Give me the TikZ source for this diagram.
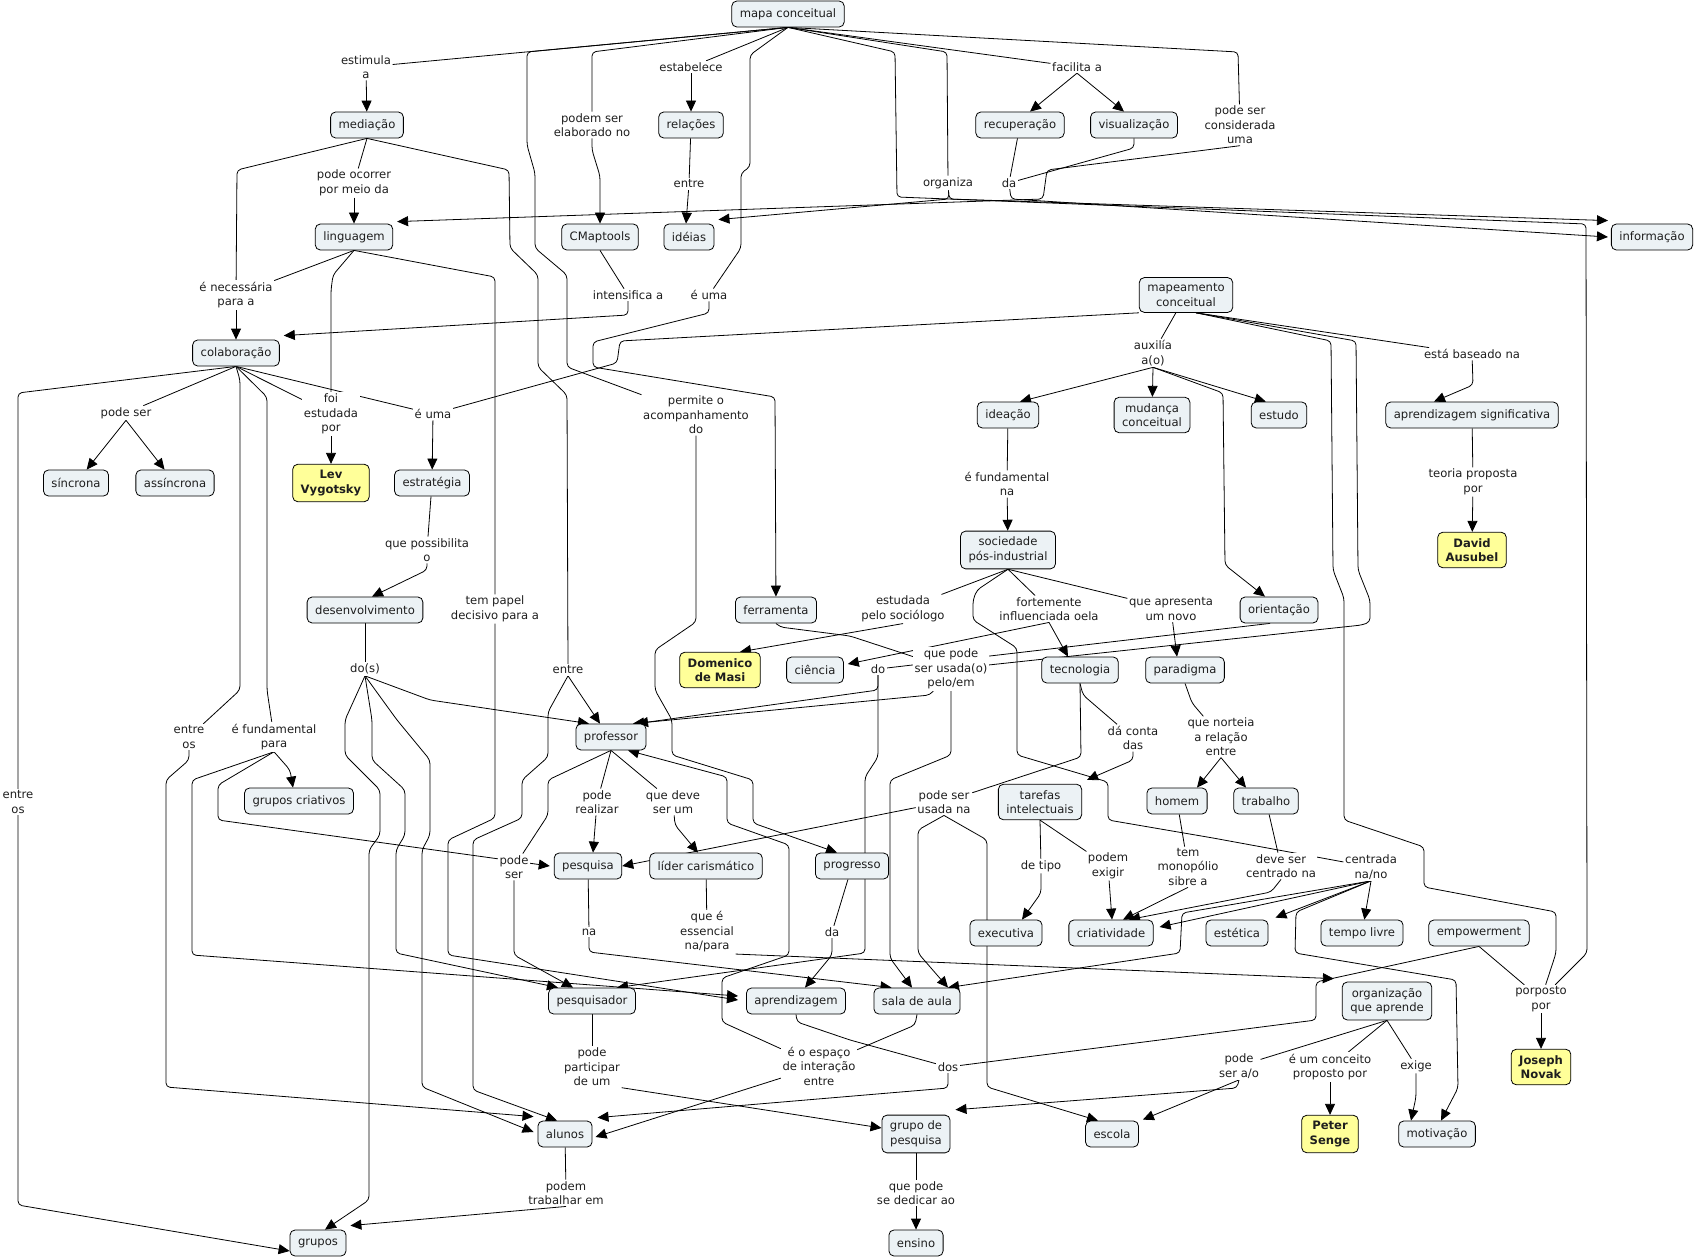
\documentclass[tikz,border=0pt]{standalone}
\usepackage{fontspec}
\setmainfont{DejaVu Sans}
\usetikzlibrary{arrows.meta,backgrounds}
\definecolor{conceptfill}{RGB}{236,242,245}
\definecolor{personfill}{RGB}{255,255,153}
\definecolor{inkgray}{RGB}{30,30,30}

\begin{document}
\begin{tikzpicture}[
        x=1pt, y=-1pt,
        every node/.style={font=\fontsize{11.6}{14.5}\selectfont, text=inkgray},
        concept/.style={rectangle, rounded corners=5pt, draw=black, line width=0.8pt,
            fill=#1, align=center, inner xsep=8pt, inner ysep=6pt, minimum height=26pt},
        concept/.default=conceptfill,
        person/.style={concept=personfill, font=\fontsize{11.6}{14.5}\selectfont\bfseries},
        phrase/.style={fill=white, align=center, inner sep=1.5pt},
        link/.style={draw, line width=0.8pt, rounded corners=4pt},
        arr/.style={link, -{Triangle[length=11pt,width=10pt]}}
    ]
        \useasboundingbox (0,0) rectangle (1696,1257);

        \node[concept] (mapa) at (788,14) {mapa conceitual};
        \node[concept] (mediacao) at (367,125) {mediação};
        \node[concept] (relacoes) at (691,125) {relações};
        \node[concept] (recuperacao) at (1020,125) {recuperação};
        \node[concept] (visualizacao) at (1134,125) {visualização};
        \node[concept] (linguagem) at (354,237) {linguagem};
        \node[concept] (cmaptools) at (600,237) {CMaptools};
        \node[concept] (ideias) at (689,237) {idéias};
        \node[concept] (informacao) at (1652,237) {informação};
        \node[concept] (mapeamento) at (1186,295) {mapeamento\\conceitual};
        \node[concept] (colaboracao) at (236,353) {colaboração};
        \node[concept] (ideacao) at (1008,415) {ideação};
        \node[concept] (mudanca) at (1152,415) {mudança\\conceitual};
        \node[concept] (estudo) at (1279,415) {estudo};
        \node[concept] (aprsig) at (1472,415) {aprendizagem significativa};
        \node[concept] (sincrona) at (76,483) {síncrona};
        \node[concept] (assincrona) at (175,483) {assíncrona};
        \node[concept] (estrategia) at (432,483) {estratégia};
        \node[concept] (sociedade) at (1008,550) {sociedade\\pós-industrial};
        \node[concept] (desenvolvimento) at (365,610) {desenvolvimento};
        \node[concept] (ferramenta) at (776,610) {ferramenta};
        \node[concept] (orientacao) at (1279,610) {orientação};
        \node[concept] (ciencia) at (815,670) {ciência};
        \node[concept] (tecnologia) at (1080,670) {tecnologia};
        \node[concept] (paradigma) at (1185,670) {paradigma};
        \node[concept] (professor) at (611,737) {professor};
        \node[concept] (grupcriat) at (299,801) {grupos criativos};
        \node[concept] (tarefas) at (1040,802) {tarefas\\intelectuais};
        \node[concept] (homem) at (1177,801) {homem};
        \node[concept] (trabalho) at (1266,801) {trabalho};
        \node[concept] (pesquisa) at (588,866) {pesquisa};
        \node[concept] (lider) at (706,866) {líder carismático};
        \node[concept] (progresso) at (852,866) {progresso};
        \node[concept] (executiva) at (1006,933) {executiva};
        \node[concept] (criatividade) at (1111,933) {criatividade};
        \node[concept] (estetica) at (1237,933) {estética};
        \node[concept] (tempolivre) at (1362,933) {tempo livre};
        \node[concept] (empowerment) at (1479,933) {empowerment};
        \node[concept] (pesquisador) at (592,1001) {pesquisador};
        \node[concept] (aprendizagem) at (796,1001) {aprendizagem};
        \node[concept] (saladeaula) at (917,1001) {sala de aula};
        \node[concept] (organizacao) at (1387,1001) {organização\\que aprende};
        \node[concept] (alunos) at (565,1134) {alunos};
        \node[concept] (grupopesq) at (916,1134) {grupo de\\pesquisa};
        \node[concept] (escola) at (1112,1134) {escola};
        \node[concept] (motivacao) at (1437,1134) {motivação};
        \node[concept] (grupos) at (318,1243) {grupos};
        \node[concept] (ensino) at (916,1243) {ensino};

        \node[person] (vygotsky) at (331,483) {Lev\\Vygotsky};
        \node[person] (masi) at (720,670) {Domenico\\de Masi};
        \node[person] (ausubel) at (1472,550) {David\\Ausubel};
        \node[person] (novak) at (1541,1067) {Joseph\\Novak};
        \node[person] (senge) at (1330,1134) {Peter\\Senge};

        \node[phrase] (l_estimula) at (366,67) {estimula\\a};
        \node[phrase] (l_elaborado) at (592,125) {podem ser\\elaborado no};
        \node[phrase] (l_estabelece) at (691,67) {estabelece};
        \node[phrase] (l_facilita) at (1077,67) {facilita a};
        \node[phrase] (l_considerada) at (1240,125) {pode ser\\considerada\\uma};
        \node[phrase] (l_ocorrer) at (354,183) {pode ocorrer\\por meio da};
        \node[phrase] (l_entre1) at (689,184) {entre};
        \node[phrase] (l_organiza) at (948,183) {organiza};
        \node[phrase] (l_da1) at (1009,183) {da};
        \node[phrase] (l_necessaria) at (236,295) {é necessária\\para a};
        \node[phrase] (l_intensifica) at (628,295) {intensifica a};
        \node[phrase] (l_euma1) at (709,295) {é uma};
        \node[phrase] (l_auxilia) at (1153,353) {auxilía\\a(o)};
        \node[phrase] (l_baseado) at (1472,354) {está baseado na};
        \node[phrase] (l_podeser1) at (126,413) {pode ser};
        \node[phrase] (l_estudada) at (331,414) {foi\\estudada\\por};
        \node[phrase] (l_euma2) at (433,414) {é uma};
        \node[phrase] (l_acomp) at (696,415) {permite o\\acompanhamento\\do};
        \node[phrase] (l_fundna) at (1007,484) {é fundamental\\na};
        \node[phrase] (l_teoria) at (1473,482) {teoria proposta\\por};
        \node[phrase] (l_possibilita) at (427,550) {que possibilita\\o};
        \node[phrase] (l_tempapel) at (495,609) {tem papel\\decisivo para a};
        \node[phrase] (l_sociologo) at (903,609) {estudada\\pelo sociólogo};
        \node[phrase] (l_fortemente) at (1049,609) {fortemente\\influenciada oela};
        \node[phrase] (l_apresenta) at (1171,609) {que apresenta\\um novo};
        \node[phrase] (l_dos1) at (365,669) {do(s)};
        \node[phrase] (l_entre2) at (568,670) {entre};
        \node[phrase] (l_do) at (878,669) {do};
        \node[phrase] (l_usadapelo) at (951,669) {que pode\\ser usada(o)\\pelo/em};
        \node[phrase] (l_entreos1) at (189,737) {entre\\os};
        \node[phrase] (l_fundpara) at (274,737) {é fundamental\\para};
        \node[phrase] (l_daconta) at (1133,738) {dá conta\\das};
        \node[phrase] (l_norteia) at (1221,737) {que norteia\\a relação\\entre};
        \node[phrase] (l_entreos2) at (18,802) {entre\\os};
        \node[phrase] (l_realizar) at (597,802) {pode\\realizar};
        \node[phrase] (l_deveser) at (673,802) {que deve\\ser um};
        \node[phrase] (l_usadana) at (944,802) {pode ser\\usada na};
        \node[phrase] (l_podeser2) at (514,867) {pode\\ser};
        \node[phrase] (l_detipo) at (1041,866) {de tipo};
        \node[phrase] (l_exigir) at (1108,866) {podem\\exigir};
        \node[phrase] (l_monopolio) at (1188,867) {tem\\monopólio\\sibre a};
        \node[phrase] (l_centrado) at (1281,866) {deve ser\\centrado na};
        \node[phrase] (l_centrada) at (1371,867) {centrada\\na/no};
        \node[phrase] (l_na) at (589,932) {na};
        \node[phrase] (l_essencial) at (707,932) {que é\\essencial\\na/para};
        \node[phrase] (l_da2) at (832,932) {da};
        \node[phrase] (l_porposto) at (1541,999) {porposto\\por};
        \node[phrase] (l_participar) at (592,1067) {pode\\participar\\de um};
        \node[phrase] (l_espaco) at (819,1066) {é o espaço\\de interação\\entre};
        \node[phrase] (l_dos2) at (948,1067) {dos};
        \node[phrase] (l_podesera) at (1239,1066) {pode\\ser a/o};
        \node[phrase] (l_conceito) at (1330,1067) {é um conceito\\proposto por};
        \node[phrase] (l_exige) at (1416,1066) {exige};
        \node[phrase] (l_trabalhar) at (566,1193) {podem\\trabalhar em};
        \node[phrase] (l_dedicar) at (916,1193) {que pode\\se dedicar ao};

        \begin{scope}[on background layer]
        \draw[link] (mapa.south) -- (l_estimula);
        \draw[arr] (l_estimula) -- (mediacao);
        \draw[link] (mapa.south) -- (592,52) -- (l_elaborado);
        \draw[arr] (l_elaborado) -- (592,150) -- (600,176) -- (cmaptools);
        \draw[link] (mapa.south) -- (l_estabelece);
        \draw[arr] (l_estabelece) -- (relacoes);
        \draw[link] (relacoes) -- (l_entre1);
        \draw[arr] (l_entre1) -- ([xshift=-3pt]ideias.north);
        \draw[link] (mapa.south) -- (527,52) -- (527,145) -- (535,173) -- (535,248) -- (567,275) -- (567,367) -- (l_acomp);
        \draw[arr] (l_acomp) -- (696,622) -- (655,650) -- (655,690) -- (672,720) -- (672,755) -- (753,780) -- (753,823) -- ([xshift=-15pt]progresso.north);
        \draw[link] (mapa.south) -- (750,55) -- (750,167) -- (741,173) -- (741,248) -- (l_euma1);
        \draw[arr] (l_euma1) -- (709,313) -- (593,342) -- (593,367) -- (775,397) -- (ferramenta);
        \draw[link] (mapa.south) -- (895,52) -- (897,197) -- (1586,224) -- (1587,953) -- (l_porposto);
        \draw[link] (mapa.south) -- (947,52) -- (l_organiza);
        \draw[arr] (l_organiza) -- (949,199) -- ([shift={(4,-4)}]ideias.north east);
        \draw[arr] (l_organiza) -- (949,199) -- ([shift={(-3,-3)}]informacao.north west);
        \draw[link] (mapa.south) -- (l_facilita);
        \draw[arr] (l_facilita.south) -- ([xshift=10pt]recuperacao.north);
        \draw[arr] (l_facilita.south) -- ([xshift=-10pt]visualizacao.north);
        \draw[link] (mapa.south) -- (1238,52) -- (l_considerada);
        \draw[link] (recuperacao) -- (l_da1);
        \draw[link] (visualizacao.south) -- (1134,148) -- (l_da1);
        \draw[arr] (l_da1) -- (1011,199) -- ([xshift=-3pt]informacao.west);
        \draw[arr] (l_considerada.south) -- (1047,170) -- (1043,199) -- ([shift={(4,-2)}]linguagem.north east);

        \draw[link] (mediacao.south) -- (l_ocorrer);
        \draw[arr] (l_ocorrer) -- (linguagem);
        \draw[link] (mediacao.south) -- (237,170) -- (l_necessaria);
        \draw[link] (mediacao.south) -- (509,170) -- (510,248) -- (538,275) -- (538,367) -- (567,395) -- (l_entre2);
        \draw[link] (linguagem.south) -- (l_necessaria);
        \draw[link] (linguagem.south) -- (333,275) -- (331,290) -- (l_estudada);
        \draw[link] (linguagem.south) -- (495,277) -- (l_tempapel);
        \draw[arr] (l_necessaria) -- (colaboracao);
        \draw[link] (cmaptools.south) -- (l_intensifica);
        \draw[arr] (l_intensifica.south) -- (628,315) -- ([shift={(4,-4)}]colaboracao.north east);

        \draw[link] (colaboracao.south) -- (l_podeser1);
        \draw[arr] (l_podeser1.south) -- (sincrona);
        \draw[arr] (l_podeser1.south) -- (assincrona);
        \draw[link] (colaboracao.south) -- (18,393) -- (l_entreos2);
        \draw[arr] (l_entreos2) -- (18,1205) -- ([yshift=-8pt]grupos.west);
        \draw[link] (colaboracao.south) -- (240,380) -- (240,690) -- (l_entreos1);
        \draw[arr] (l_entreos1) -- (189,760) -- (166,780) -- (166,1087) -- ([shift={(-4,-4)}]alunos.north west);
        \draw[link] (colaboracao.south) -- (267,397) -- (267,690) -- (l_fundpara);
        \draw[link] (colaboracao.south) -- (l_estudada);
        \draw[link] (colaboracao.south) -- (l_euma2);
        \draw[arr] (l_estudada) -- (vygotsky);
        \draw[arr] (l_euma2) -- (estrategia);
        \draw[link] (mapeamento.south west) -- (620,341) -- (617,363) -- (l_euma2);

        \draw[arr] (l_fundpara.south) -- (290,770) -- ([xshift=-6pt]grupcriat.north);
        \draw[arr] (l_fundpara.south) -- (218,785) -- (218,820) -- ([xshift=-4pt]pesquisa.west);
        \draw[arr] (l_fundpara.south) -- (192,780) -- (192,955) -- ([shift={(-8,-5)}]aprendizagem.west);
        \draw[link] (estrategia) -- (l_possibilita);
        \draw[arr] (l_possibilita.south) -- (427,570) -- ([xshift=7pt]desenvolvimento.north);
        \draw[link] (desenvolvimento) -- (l_dos1);
        \draw[arr] (l_dos1.south) -- (430,700) -- ([xshift=-22pt]professor.north);
        \draw[arr] (l_dos1.south) -- (345,720) -- (345,755) -- (380,790) -- (380,835) -- (369,850) -- (369,1200) -- ([xshift=7pt]grupos.north);
        \draw[arr] (l_dos1.south) -- (372,720) -- (372,760) -- (405,790) -- (405,835) -- (396,850) -- (396,953) -- ([xshift=-34pt]pesquisador.north);
        \draw[arr] (l_dos1.south) -- (397,720) -- (430,760) -- (430,835) -- (422,850) -- (422,1087) -- ([shift={(-4,-2)}]alunos.west);
        \draw[arr] (l_tempapel) -- (495,818) -- (448,840) -- (448,955) -- ([shift={(-8,-1)}]aprendizagem.west);
        \draw[arr] (l_entre2.south) -- ([xshift=-11pt]professor.north);
        \draw[arr] (l_entre2.south) -- (548,712) -- (548,757) -- (522,780) -- (522,818) -- (473,840) -- (473,1090) -- ([xshift=-8pt]alunos.north);

        \draw[link] (professor.south) -- (l_realizar);
        \draw[arr] (l_realizar) -- ([xshift=5pt]pesquisa.north);
        \draw[link] (professor.south) -- (l_deveser);
        \draw[arr] (l_deveser) -- (675,825) -- ([xshift=-8pt]lider.north);
        \draw[link] (professor.south) -- (548,780) -- (548,815) -- (l_podeser2);
        \draw[arr] (l_podeser2) -- (514,955) -- ([xshift=-19pt]pesquisador.north);
        \draw[link] (pesquisa) -- (l_na);
        \draw[arr] (l_na) -- (589,952) -- ([xshift=18pt]saladeaula.north west);
        \draw[link] (lider) -- (l_essencial);
        \draw[arr] (l_essencial.south east) -- ([shift={(-8,-3)}]organizacao.north west);
        \draw[link] (progresso) -- (l_da2);
        \draw[arr] (l_da2) -- (832,955) -- ([xshift=9pt]aprendizagem.north);

        \draw[link] (aprendizagem.south) -- (797,1022) -- (850,1040) -- (l_dos2);
        \draw[arr] (l_dos2.south) -- (948,1088) -- ([shift={(5,-3)}]alunos.north east);
        \draw[link] (empowerment.south) -- (1316,982) -- (1316,1020) -- (l_dos2);
        \draw[link] (empowerment.south) -- (l_porposto);
        \draw[arr] (l_porposto) -- (novak);
        \draw[link] (saladeaula.south) -- (915,1025) -- (l_espaco);
        \draw[arr] (l_espaco) -- ([shift={(3,3)}]alunos.east);
        \draw[arr] (l_espaco) -- (722,1022) -- (722,978) -- (789,955) -- (789,845) -- (727,823) -- (727,777) -- ([xshift=17pt]professor.south);
        \draw[link] (pesquisador) -- (l_participar);
        \draw[arr] (l_participar.south east) -- ([yshift=6pt]grupopesq.west);
        \draw[link] (grupopesq) -- (l_dedicar);
        \draw[arr] (l_dedicar) -- (ensino);
        \draw[link] (alunos) -- (l_trabalhar);
        \draw[arr] (l_trabalhar.south) -- ([shift={(4,-4)}]grupos.north east);

        \draw[link] (organizacao.south) -- (l_podesera);
        \draw[arr] (l_podesera.south) -- (1237,1088) -- ([shift={(5,-5)}]grupopesq.north east);
        \draw[arr] (l_podesera.south) -- ([shift={(4,-1)}]escola.north east);
        \draw[link] (organizacao.south) -- (l_conceito);
        \draw[arr] (l_conceito) -- (senge);
        \draw[link] (organizacao.south) -- (l_exige);
        \draw[arr] (l_exige) -- (1416,1097) -- ([xshift=-26pt]motivacao.north);

        \draw[link] (mapeamento) -- (l_auxilia);
        \draw[arr] (l_auxilia.south) -- ([xshift=12pt]ideacao.north);
        \draw[arr] (l_auxilia.south) -- (mudanca);
        \draw[arr] (l_auxilia.south) -- ([xshift=15pt]estudo.north west);
        \draw[arr] (l_auxilia.south) -- (1223,393) -- (1225,565) -- ([xshift=-14pt]orientacao.north);
        \draw[link] ([xshift=10pt]mapeamento.south) -- (1331,341) -- (1333,570) -- (1344,598) -- (1344,820) -- (1424,847) -- (1424,887) -- (1556,912) -- (1556,953) -- (l_porposto);
        \draw[link] ([xshift=10pt]mapeamento.south) -- (1356,341) -- (1358,570) -- (1370,600) -- (1370,622) -- (1362,625) -- (l_usadapelo);
        \draw[link] ([xshift=10pt]mapeamento.south) -- (l_baseado);
        \draw[arr] (l_baseado) -- (1473,385) -- ([xshift=-38pt]aprsig.north);
        \draw[link] (aprsig) -- (l_teoria);
        \draw[arr] (l_teoria) -- (ausubel);

        \draw[link] (ideacao) -- (l_fundna);
        \draw[arr] (l_fundna) -- (sociedade);
        \draw[link] (sociedade.south) -- (l_sociologo);
        \draw[arr] (l_sociologo.south) -- ([xshift=20pt]masi.north);
        \draw[link] (sociedade.south) -- (l_fortemente);
        \draw[arr] (l_fortemente.south) -- ([xshift=-12pt]tecnologia.north);
        \draw[arr] (l_fortemente.south) -- ([shift={(4,-6)}]ciencia.east);
        \draw[link] (sociedade.south) -- (l_apresenta);
        \draw[arr] (l_apresenta) -- ([xshift=-8pt]paradigma.north);
        \draw[link] (sociedade.south) -- (977,590) -- (973,600) -- (973,620) -- (1017,648) -- (1017,755) -- (1108,782) -- (1108,820) -- (1213,838) -- (l_centrada);
        \draw[link] (ferramenta.south) -- (780,627) -- (850,636) -- (l_usadapelo);
        \draw[link] ([xshift=-9pt]orientacao.south) -- (l_do);
        \draw[arr] (l_do.south) -- (878,690) -- ([xshift=26pt]professor.north);
        \draw[arr] (l_do.south) -- (878,757) -- (865,777) -- (865,953) -- ([xshift=25pt]pesquisador.north);
        \draw[arr] (l_usadapelo) -- (930,695) -- ([xshift=22pt]professor.north);
        \draw[arr] (l_usadapelo.south) -- (951,755) -- (890,780) -- (890,958) -- ([xshift=-5pt]saladeaula.north);

        \draw[link] (tecnologia.south) -- (1083,695) -- (l_daconta);
        \draw[arr] (l_daconta.south) -- (1133,760) -- ([shift={(5,-4)}]tarefas.north east);
        \draw[link] (tecnologia.south) -- (1081,757) -- (l_usadana);
        \draw[arr] (l_usadana) -- (pesquisa.east);
        \draw[arr] (l_usadana.south) -- (918,830) -- (918,953) -- ([xshift=31pt]saladeaula.north);
        \draw[arr] (l_usadana.south) -- (987,840) -- (987,1087) -- ([xshift=-14pt]escola.north);
        \draw[link] (paradigma.south) -- (1192,703) -- (l_norteia);
        \draw[arr] (l_norteia.south) -- ([xshift=20pt]homem.north);
        \draw[arr] (l_norteia.south) -- ([xshift=-20pt]trabalho.north);
        \draw[link] (homem) -- (l_monopolio);
        \draw[arr] (l_monopolio.south) -- ([xshift=12pt]criatividade.north);
        \draw[link] (trabalho) -- (l_centrado);
        \draw[arr] (l_centrado.south) -- (1271,892) -- ([xshift=18pt]criatividade.north);
        \draw[link] (tarefas.south) -- (l_detipo);
        \draw[arr] (l_detipo.south) -- (1041,893) -- ([xshift=16pt]executiva.north);
        \draw[link] (tarefas.south) -- (l_exigir);
        \draw[arr] (l_exigir) -- ([xshift=1pt]criatividade.north);
        \draw[arr] (l_centrada.south) -- (tempolivre);
        \draw[arr] (l_centrada.south) -- ([shift={(7,-2)}]estetica.north east);
        \draw[arr] (l_centrada.south) -- ([shift={(6,-6)}]criatividade.east);
        \draw[arr] (l_centrada.south) -- (1296,912) -- (1295,953) -- (1456,980) -- (1458,1088) -- ([xshift=4pt]motivacao.north);
        \draw[arr] (l_centrada.south) -- (1182,913) -- (1180,953) -- ([xshift=31pt]saladeaula.north);
        \end{scope}
    \end{tikzpicture}
\end{document}
